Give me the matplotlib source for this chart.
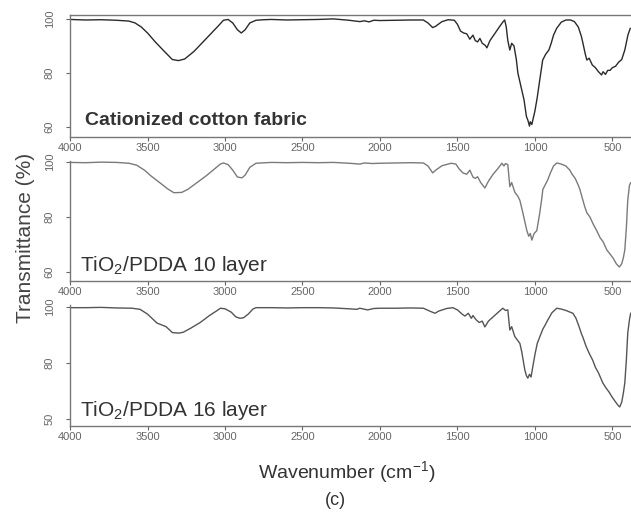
import numpy as np
import matplotlib.pyplot as plt

plt.rcParams['font.family'] = ['Liberation Sans', 'DejaVu Sans']
plt.rcParams['mathtext.fontset'] = 'custom'
plt.rcParams['mathtext.rm'] = 'Liberation Sans'
plt.rcParams['mathtext.it'] = 'Liberation Sans:italic'
plt.rcParams['mathtext.bf'] = 'Liberation Sans:bold'

# 光谱数据 (波数 cm-1, 透过率 %)
wn_cotton = [4000, 3900, 3800, 3700, 3620, 3580, 3540, 3500, 3450, 3400, 3340, 3300, 3260,
             3200, 3150, 3100, 3050, 3010, 2980, 2950, 2920, 2895, 2870, 2840, 2800, 2750,
             2700, 2600, 2500, 2400, 2300, 2200, 2130, 2100, 2070, 2040, 2000, 1900, 1800,
             1720, 1690, 1660, 1640, 1600, 1560, 1520, 1500, 1480, 1460, 1440, 1420, 1400,
             1385, 1370, 1355, 1340, 1320, 1310, 1290, 1260, 1230, 1205, 1195, 1185, 1175,
             1162, 1150, 1135, 1120, 1110, 1090, 1070, 1055, 1045, 1035, 1030, 1020, 1010,
             1000, 985, 970, 950, 930, 910, 895, 880, 860, 830, 800, 770, 745, 720, 700,
             690, 675, 665, 650, 630, 610, 590, 570, 560, 545, 530, 515, 500, 480, 460,
             440, 420, 400, 385]
t_cotton = [99.8, 99.6, 99.7, 99.5, 99.2, 98.5, 97, 94.8, 91.5, 88.5, 85, 84.6, 85.2,
            88, 91, 94, 97, 99.5, 99.8, 98.5, 96, 94.8, 96, 98.5, 99.5, 99.7,
            99.8, 99.6, 99.7, 99.8, 100, 99.5, 99.0, 99.3, 98.9, 99.5, 99.4, 99.5, 99.6,
            99.6, 98.5, 96.8, 97.3, 99, 99.7, 99.5, 98, 95.5, 94.8, 94.5, 92.5, 94,
            92, 91.5, 92.8, 91, 90.2, 89.3, 92, 94.5, 97, 99, 99.6, 97, 92,
            88.5, 91, 90, 85, 80, 75, 70, 64, 62.5, 60.4, 62, 61, 63.5,
            66, 71, 77, 84.8, 87, 88.5, 91, 94, 96.5, 98.8, 99.6, 99.6, 99, 97, 93.5,
            91, 87, 84.8, 85.5, 83, 82, 80.5, 79.3, 80.5, 79.5, 81, 81, 82, 82.5, 84,
            85, 88.5, 94, 96.5]

wn_10 = [4000, 3900, 3800, 3700, 3620, 3570, 3520, 3480, 3420, 3370, 3330, 3280, 3240,
         3180, 3120, 3077, 3030, 3010, 2980, 2950, 2920, 2890, 2870, 2840, 2800, 2700,
         2600, 2500, 2400, 2300, 2200, 2130, 2100, 2050, 2000, 1900, 1800, 1720, 1690,
         1660, 1640, 1600, 1540, 1510, 1490, 1465, 1440, 1420, 1400, 1385, 1370, 1350,
         1323, 1300, 1270, 1240, 1213, 1200, 1190, 1175, 1162, 1150, 1130, 1110, 1097,
         1080, 1060, 1052, 1040, 1030, 1020, 1005, 988, 970, 955, 949, 935, 917, 900,
         880, 859, 830, 800, 775, 760, 740, 720, 710, 695, 680, 665, 645, 625, 601,
         580, 560, 536, 515, 495, 475, 455, 440, 430, 420, 410, 401, 390, 382]
t_10 = [99.8, 99.7, 99.9, 99.8, 99.5, 98.8, 97, 95, 92.4, 90.2, 88.8, 88.9, 90,
        92.5, 95, 97, 99.2, 99.6, 99, 97, 94.5, 94.2, 95.2, 98, 99.5, 99.8,
        99.7, 99.8, 99.7, 99.8, 99.5, 99.2, 99.6, 99.4, 99.5, 99.6, 99.7, 99.6, 98.5,
        96, 97, 98.6, 99.5, 99.2, 97.5, 96, 95.5, 97, 94.5, 94, 94.6, 92.5,
        90.5, 93, 95.5, 97.5, 99.5, 98.5, 99.4, 99, 91, 92.5, 89, 87.5, 86,
        82, 77, 75, 73, 74, 71.6, 74, 75, 81, 87, 90, 91.5, 93.5, 96,
        98.5, 99.6, 99.2, 98.5, 97, 95.5, 94, 91.5, 90, 87, 84, 81.5, 80, 77.5, 75,
        72.5, 71, 68, 66.5, 65, 63, 61.8, 63, 65, 68, 76, 86, 91.5, 92.4]

wn_16 = [4000, 3900, 3800, 3700, 3600, 3548, 3500, 3439, 3380, 3340, 3300, 3270, 3220,
         3160, 3100, 3050, 3030, 3000, 2960, 2930, 2903, 2880, 2850, 2820, 2800, 2700,
         2600, 2500, 2400, 2300, 2200, 2150, 2130, 2080, 2040, 2000, 1900, 1800, 1720,
         1680, 1645, 1620, 1570, 1530, 1500, 1470, 1452, 1430, 1410, 1400, 1380, 1360,
         1340, 1323, 1300, 1260, 1230, 1207, 1190, 1175, 1162, 1150, 1130, 1110, 1097,
         1085, 1065, 1055, 1046, 1035, 1025, 1014, 1000, 985, 969, 950, 935, 917, 890,
         859, 830, 800, 755, 735, 715, 700, 691, 670, 650, 627, 610, 590, 562, 540,
         520, 504, 485, 465, 453, 440, 430, 420, 410, 401, 390, 382]
t_16 = [99.8, 99.8, 99.9, 99.7, 99.6, 99.2, 97.5, 94.3, 93, 90.9, 90.7, 91, 92.5,
        94.5, 97, 98.8, 99.6, 99.4, 98.2, 96.5, 96, 96.2, 97.5, 99.3, 99.8, 99.8,
        99.7, 99.8, 99.8, 99.7, 99.4, 99.2, 99.6, 99.0, 99.5, 99.6, 99.6, 99.7, 99.6,
        98.6, 97.8, 98.6, 99.5, 99.8, 99, 97.5, 96.8, 97.8, 96, 97, 95.5, 94.5,
        95, 92.9, 95, 97, 98.5, 99.6, 98.8, 99, 91.8, 93, 89.5, 88, 87,
        84, 77.5, 75.5, 74.6, 76, 75, 78.6, 83, 87, 89.3, 92, 93.5, 95.4, 98,
        99.6, 99.3, 98.8, 97.8, 96, 93, 90.5, 89.3, 86, 83.5, 81, 78.5, 76.5, 72.9, 71,
        69.5, 68, 66.5, 65, 64.3, 66, 69, 72.9, 81, 90.7, 95.5, 97.8]

x_ticks = [4000, 3500, 3000, 2500, 2000, 1500, 1000, 500]
y_ticks = [60, 80, 100]
y_labels_top = ['60', '80', '100']
y_labels_bottom = ['50', '80', '100']

panels = [
    (wn_cotton, t_cotton, 'Cationized cotton fabric', y_labels_top, '#2a2a2a',
     [0.111, 0.732, 0.889, 0.239], (56.3, 101.5)),
    (wn_10, t_10, r'TiO$_{\mathregular{2}}$/PDDA 10 layer', y_labels_top, '#7a7a7a',
     [0.111, 0.451, 0.889, 0.235], (56.7, 100.4)),
    (wn_16, t_16, r'TiO$_{\mathregular{2}}$/PDDA 16 layer', y_labels_bottom, '#555555',
     [0.111, 0.168, 0.889, 0.236], (57.5, 100.7)),
]

fig = plt.figure(figsize=(6.31, 5.12), dpi=100)
axes = []
for i, (wn, tr, label, ylab, col, rect, ylim) in enumerate(panels):
    ax = fig.add_axes(rect)
    ax.plot(wn, tr, color=col, lw=1.0)
    ax.set_xlim(4000, 380)
    ax.set_ylim(*ylim)
    ax.set_xticks(x_ticks)
    ax.set_yticks(y_ticks)
    ax.set_yticklabels(ylab, rotation=90, va='center')
    ax.tick_params(axis='both', colors='#666666', labelsize=8, length=3, width=0.8)
    ax.tick_params(axis='x', pad=1)
    ax.tick_params(axis='y', pad=8)
    for s in ['left', 'bottom', 'top']:
        ax.spines[s].set_color('#777777')
        ax.spines[s].set_linewidth(1.0)
    ax.spines['right'].set_visible(False)
    if i > 0:
        ax.spines['top'].set_visible(False)
    if i == 0:
        ax.text(0.027, 0.14, label, transform=ax.transAxes, fontsize=14,
                fontweight='bold', color='#333333', va='center')
    else:
        ax.text(0.018, 0.13, label, transform=ax.transAxes, fontsize=15,
                color='#333333', va='center')
    axes.append(ax)

fig.text(0.04, 0.535, 'Transmittance (%)', rotation=90, fontsize=15,
         color='#444444', ha='center', va='center')
fig.text(0.55, 0.078, 'Wavenumber (cm$^{\\mathregular{-1}}$)', fontsize=14,
         color='#333333', ha='center', va='center')
fig.text(0.531, 0.023, '(c)', fontsize=13, color='#333333', ha='center', va='center')

plt.savefig('out.png', dpi=100)
